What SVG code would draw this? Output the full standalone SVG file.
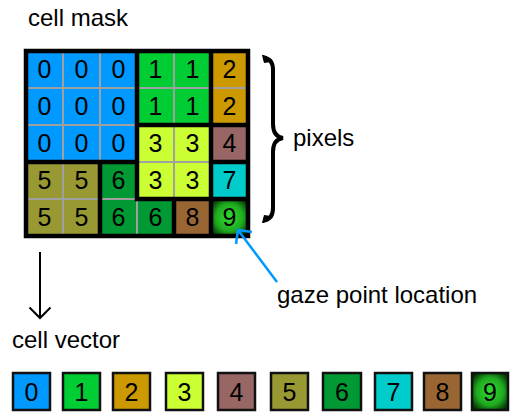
<svg xmlns="http://www.w3.org/2000/svg" width="510" height="412" viewBox="0 0 510 412">
  <defs>
    <radialGradient id="glow9" cx="50%" cy="50%" r="62%">
      <stop offset="0" stop-color="#33DD33"/>
      <stop offset="0.6" stop-color="#1FAA1F"/>
      <stop offset="1" stop-color="#022F02"/>
    </radialGradient>
    <marker id="headBlack" markerUnits="userSpaceOnUse" markerWidth="24" markerHeight="24" refX="12" refY="12" orient="auto" overflow="visible">
      <polyline points="1.5,1.5 12,12 1.5,22.5" fill="none" stroke="#000" stroke-width="2"/>
    </marker>
    <marker id="headBlue" markerUnits="userSpaceOnUse" markerWidth="24" markerHeight="24" refX="12" refY="12" orient="auto" overflow="visible">
      <polyline points="2,2 12,12 2,22" fill="none" stroke="#0099FF" stroke-width="2.5"/>
    </marker>
  </defs>
  <style>
    text { font-family: "Liberation Sans", Arial, sans-serif; fill: #000; }
    .label { font-size: 24px; }
    .digit { font-size: 25px; text-anchor: middle; }
    .c0 { fill: #0099FF; } .c1 { fill: #00CC33; } .c2 { fill: #CC9900; }
    .c3 { fill: #CCFF33; } .c4 { fill: #996666; } .c5 { fill: #999933; }
    .c6 { fill: #009933; } .c7 { fill: #00CCCC; } .c8 { fill: #996633; }
    .c9 { fill: url(#glow9); }
    .grid { stroke: #A0A0A0; stroke-width: 2; fill: none; }
    .region { stroke: #000; stroke-width: 4.5; fill: none; stroke-linecap: square; }
    .swatch { stroke: #111; stroke-width: 2.5; }
  </style>

  <text class="label" x="28" y="26">cell mask</text>

  <!-- cell mask grid: 6 columns x 5 rows, 37 px cells starting at (26,51) -->
  <g id="mask">
    <g id="cells">
      <rect class="c0" x="26" y="51" width="111" height="111"/>
      <rect class="c1" x="137" y="51" width="74" height="74"/>
      <rect class="c2" x="211" y="51" width="37" height="74"/>
      <rect class="c3" x="137" y="125" width="74" height="74"/>
      <rect class="c4" x="211" y="125" width="37" height="37"/>
      <rect class="c7" x="211" y="162" width="37" height="37"/>
      <rect class="c5" x="26" y="162" width="74" height="74"/>
      <rect class="c6" x="100" y="162" width="37" height="74"/>
      <rect class="c6" x="137" y="199" width="37" height="37"/>
      <rect class="c8" x="174" y="199" width="37" height="37"/>
      <rect class="c9" x="211" y="199" width="37" height="37"/>
    </g>
    <path class="grid" d="M63,51V236M100,51V236M137,51V236M174,51V236M211,51V236M26,88H248M26,125H248M26,162H248M26,199H248"/>
    <path class="region" d="M26,51H248V236H26Z M137,51V199 M211,51V236 M137,125H248 M26,162H137 M211,162H248 M137,199H248 M100,162V236 M174,199V236"/>
    <g id="mask-digits">
      <text class="digit" x="44.5" y="78">0</text><text class="digit" x="81.5" y="78">0</text><text class="digit" x="118.5" y="78">0</text>
      <text class="digit" x="155.5" y="78">1</text><text class="digit" x="192.5" y="78">1</text><text class="digit" x="229.5" y="78">2</text>
      <text class="digit" x="44.5" y="115">0</text><text class="digit" x="81.5" y="115">0</text><text class="digit" x="118.5" y="115">0</text>
      <text class="digit" x="155.5" y="115">1</text><text class="digit" x="192.5" y="115">1</text><text class="digit" x="229.5" y="115">2</text>
      <text class="digit" x="44.5" y="152">0</text><text class="digit" x="81.5" y="152">0</text><text class="digit" x="118.5" y="152">0</text>
      <text class="digit" x="155.5" y="152">3</text><text class="digit" x="192.5" y="152">3</text><text class="digit" x="229.5" y="152">4</text>
      <text class="digit" x="44.5" y="189">5</text><text class="digit" x="81.5" y="189">5</text><text class="digit" x="118.5" y="189">6</text>
      <text class="digit" x="155.5" y="189">3</text><text class="digit" x="192.5" y="189">3</text><text class="digit" x="229.5" y="189">7</text>
      <text class="digit" x="44.5" y="226">5</text><text class="digit" x="81.5" y="226">5</text><text class="digit" x="118.5" y="226">6</text>
      <text class="digit" x="155.5" y="226">6</text><text class="digit" x="192.5" y="226">8</text><text class="digit" x="229.5" y="226">9</text>
    </g>
  </g>

  <!-- curly brace spanning the pixel rows -->
  <g id="brace">
    <path d="M263,58 C270,58 273,62 273,70 V124 C273,132 276,137 283,138 C276,139 273,144 273,152 V208 C273,216 270,220 263,220" fill="none" stroke="#000" stroke-width="4"/>
    <path d="M262,55 C266,55 270,57 271,62 L264,63 Z" fill="#000"/>
    <path d="M262,223 C266,223 270,221 271,216 L264,215 Z" fill="#000"/>
  </g>
  <g id="pixels-label"><text class="label" x="293" y="146">pixels</text></g>

  <g id="connectors">
    <line x1="277" y1="282" x2="238" y2="230" stroke="#0099FF" stroke-width="2.5" marker-end="url(#headBlue)"/>
    <line x1="40" y1="252" x2="40" y2="318" stroke="#000" stroke-width="2" marker-end="url(#headBlack)"/>
  </g>
  <g id="gaze-label"><text class="label" x="277" y="303">gaze point location</text></g>

  <text class="label" x="12" y="348">cell vector</text>

  <!-- cell vector swatches -->
  <g id="vector">
    <g id="v0"><rect class="swatch c0" x="13" y="373" width="37" height="37"/><text class="digit" x="31.5" y="401">0</text></g>
    <g id="v1"><rect class="swatch c1" x="63" y="373" width="37" height="37"/><text class="digit" x="81.5" y="401">1</text></g>
    <g id="v2"><rect class="swatch c2" x="113" y="373" width="37" height="37"/><text class="digit" x="131.5" y="401">2</text></g>
    <g id="v3"><rect class="swatch c3" x="166" y="373" width="37" height="37"/><text class="digit" x="184.5" y="401">3</text></g>
    <g id="v4"><rect class="swatch c4" x="218" y="373" width="37" height="37"/><text class="digit" x="236.5" y="401">4</text></g>
    <g id="v5"><rect class="swatch c5" x="271" y="373" width="37" height="37"/><text class="digit" x="289.5" y="401">5</text></g>
    <g id="v6"><rect class="swatch c6" x="323" y="373" width="38" height="37"/><text class="digit" x="342" y="401">6</text></g>
    <g id="v7"><rect class="swatch c7" x="375" y="373" width="37" height="37"/><text class="digit" x="393.5" y="401">7</text></g>
    <g id="v8"><rect class="swatch c8" x="424" y="373" width="37" height="37"/><text class="digit" x="442.5" y="401">8</text></g>
    <g id="v9"><rect class="swatch c9" x="472" y="373" width="36" height="37"/><text class="digit" x="490" y="401">9</text></g>
  </g>
</svg>
